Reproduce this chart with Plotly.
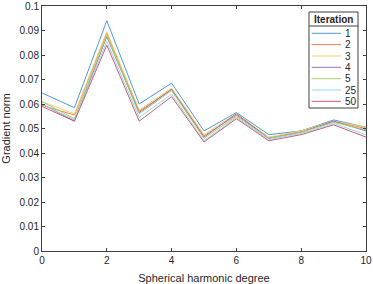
import plotly.graph_objects as go

degree = [0, 1, 2, 3, 4, 5, 6, 7, 8, 9, 10]
iterations = ["1", "2", "3", "4", "5", "25", "50"]
it1 = [0.0645, 0.0585, 0.0940, 0.0600, 0.0685, 0.0490, 0.0565, 0.0475, 0.0490, 0.0535, 0.0505]
it2 = [0.0595, 0.0555, 0.0890, 0.0570, 0.0660, 0.0470, 0.0555, 0.0460, 0.0490, 0.0530, 0.0500]
it3 = [0.0610, 0.0560, 0.0895, 0.0575, 0.0665, 0.0475, 0.0560, 0.0465, 0.0490, 0.0530, 0.0505]
it4 = [0.0600, 0.0530, 0.0875, 0.0565, 0.0660, 0.0465, 0.0560, 0.0460, 0.0485, 0.0530, 0.0490]
it5 = [0.0610, 0.0540, 0.0880, 0.0560, 0.0655, 0.0460, 0.0550, 0.0460, 0.0485, 0.0525, 0.0495]
it25 = [0.0600, 0.0535, 0.0855, 0.0545, 0.0640, 0.0450, 0.0545, 0.0455, 0.0480, 0.0520, 0.0475]
it50 = [0.0590, 0.0530, 0.0840, 0.0530, 0.0630, 0.0445, 0.0540, 0.0450, 0.0475, 0.0515, 0.0465]
series = [it1, it2, it3, it4, it5, it25, it50]
colors = ["#4d9ad8", "#ee8052", "#f7cd6d", "#a070b5", "#9fcf6a", "#8dd7f7", "#d45b70"]
x_ticks = [0, 2, 4, 6, 8, 10]
y_ticks = [0, 0.01, 0.02, 0.03, 0.04, 0.05, 0.06, 0.07, 0.08, 0.09, 0.1]
y_tick_text = ["0", "0.01", "0.02", "0.03", "0.04", "0.05", "0.06", "0.07", "0.08", "0.09", "0.1"]

W, H = 373, 284
ML, MR, MT, MB = 42, 7, 6, 33
PW, PH = W - ML - MR, H - MT - MB


def dx(px):
    return (px - ML) / PW


def dy(py):
    return (H - MB - py) / PH


fig = go.Figure()
for name, ys, c in zip(iterations, series, colors):
    fig.add_trace(go.Scatter(x=degree, y=ys, mode="lines", name=name,
                             line=dict(color=c, width=1), showlegend=False))

axis_common = dict(showgrid=False, zeroline=False, showline=True, linecolor="#404040",
                   linewidth=1, mirror="ticks", ticks="inside", ticklen=3,
                   tickcolor="#404040", tickfont=dict(size=10, color="#262626"),
                   automargin=False)

# manual compact legend (box, title, separator, samples, labels)
shapes = [
    dict(type="rect", xref="x domain", yref="y domain",
         x0=dx(309), x1=dx(358), y0=dy(108), y1=dy(12),
         line=dict(color="#404040", width=1), fillcolor="white", layer="above"),
    dict(type="line", xref="x domain", yref="y domain",
         x0=dx(309), x1=dx(358), y0=dy(26), y1=dy(26),
         line=dict(color="#404040", width=1), layer="above"),
]
annotations = [
    dict(xref="x domain", yref="y domain", x=dx(311.5), y=dy(19.3),
         text="<b>Iteration</b>", showarrow=False, xanchor="left", yanchor="middle",
         font=dict(size=10, color="#262626")),
]
row_y = [33.3, 44.6, 56.0, 67.3, 78.7, 90.0, 101.3]
for name, c, ry in zip(iterations, colors, row_y):
    shapes.append(dict(type="line", xref="x domain", yref="y domain",
                       x0=dx(311.7), x1=dx(341), y0=dy(ry), y1=dy(ry),
                       line=dict(color=c, width=1), layer="above"))
    annotations.append(dict(xref="x domain", yref="y domain", x=dx(342.5), y=dy(ry),
                            text=name, showarrow=False, xanchor="left", yanchor="middle",
                            font=dict(size=10, color="#262626")))

fig.update_layout(
    width=W, height=H,
    margin=dict(l=ML, r=MR, t=MT, b=MB),
    paper_bgcolor="white", plot_bgcolor="white",
    font=dict(family="Liberation Sans, Arial, sans-serif", color="#262626"),
    showlegend=False,
    shapes=shapes,
    annotations=annotations,
    xaxis=dict(range=[0, 10], tickvals=x_ticks,
               title=dict(text="Spherical harmonic degree", font=dict(size=11)),
               **axis_common),
    yaxis=dict(range=[0, 0.1], tickvals=y_ticks, ticktext=y_tick_text,
               title=dict(text="Gradient norm", font=dict(size=11)),
               **axis_common),
)

fig.write_html("out.html", config={"displayModeBar": False},
               post_script="document.body.style.margin='0';")
